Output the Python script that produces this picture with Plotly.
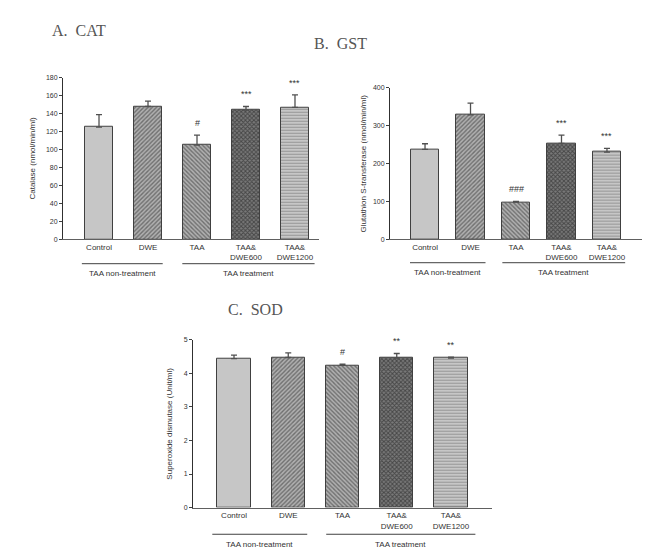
import plotly.graph_objects as go

categories = ["Control", "DWE", "TAA", "TAA&<br>DWE600", "TAA&<br>DWE1200"]

cat_means = [125, 148, 105, 144, 147]
cat_errs = [14, 6, 11, 4, 14]
cat_marks = ["", "", "#", "***", "***"]

gst_means = [237, 328, 98, 253, 230]
gst_errs = [15, 31, 2, 22, 10]
gst_marks = ["", "", "###", "***", "***"]

sod_means = [4.44, 4.47, 4.24, 4.45, 4.45]
sod_errs = [0.1, 0.14, 0.03, 0.14, 0.03]
sod_marks = ["", "", "#", "**", "**"]

group_labels = ["TAA non-treatment", "TAA treatment"]

fills = ["#c6c6c6", "#b0b0b0", "#b0b0b0", "#7a7a7a", "#d6d6d6"]
shapes_p = ["", "/", "\\", "x", "-"]
fgs = ["#c6c6c6", "#2e2e2e", "#2e2e2e", "#141414", "#555555"]
sizes = [4, 3, 3, 3, 3]
sol = [0.3, 0.45, 0.45, 0.55, 0.5]

FONT = "Liberation Sans, Arial, sans-serif"
SERIF = "Liberation Serif, Times New Roman, serif"

fig = go.Figure()

panels = [
    dict(means=cat_means, errs=cat_errs, marks=cat_marks, xs="x", ys="y",
         xdom=[63/660, 319/660], ydom=[1-238.3/557, 1-74.7/557],
         xr=[-0.735, 4.49], yr=[0, 180], dt=20, bw=0.59,
         ytitle="Catalase (nmol/min/ml)", ytx=33, title="A.  CAT", tx=50, ty=27,
         gl=[(-0.35, 1.3), (1.7, 4.4)], gly=263, gty=273),
    dict(means=gst_means, errs=gst_errs, marks=gst_marks, xs="x2", ys="y2",
         xdom=[390/660, 642/660], ydom=[1-238.3/557, 1-84.7/557],
         xr=[-0.77, 4.77], yr=[0, 400], dt=100, bw=0.62,
         ytitle="Glutathion S-transferase (nmol/min/ml)", ytx=363, title="B.  GST", tx=312, ty=40,
         gl=[(-0.33, 1.33), (1.7, 4.4)], gly=262, gty=272),
    dict(means=sod_means, errs=sod_errs, marks=sod_marks, xs="x3", ys="y3",
         xdom=[193/660, 492/660], ydom=[1-510/557, 1-340/557],
         xr=[-0.756, 4.756], yr=[0, 5], dt=1, bw=0.61,
         ytitle="Superoxide dismutase (Unit/ml)", ytx=170, title="C.  SOD", tx=226, ty=309,
         gl=[(-0.4, 1.35), (1.7, 4.45)], gly=537, gty=547),
]

annotations = []
shapes = []
for i, p in enumerate(panels):
    sfx = "" if i == 0 else str(i + 1)
    for k in range(5):
        fig.add_trace(go.Bar(
            x=[k], y=[p["means"][k]], width=p["bw"], xaxis=p["xs"], yaxis=p["ys"],
            marker=dict(color=fills[k],
                        line=dict(color="#404040", width=1),
                        pattern=dict(shape=shapes_p[k], fgcolor=fgs[k], bgcolor=fills[k],
                                     size=sizes[k], solidity=sol[k]) if shapes_p[k] else None),
            error_y=dict(type="data", symmetric=False, array=[p["errs"][k]], arrayminus=[0],
                         color="#505050", thickness=1.3, width=3),
            showlegend=False, hoverinfo="skip"))
        if p["marks"][k]:
            annotations.append(dict(x=k, y=p["means"][k] + p["errs"][k], xref=p["xs"], yref=p["ys"],
                                    text=p["marks"][k], showarrow=False, yanchor="bottom", yshift=5,
                                    font=dict(family=FONT, size=9, color="#333333")))
    fig.layout["xaxis" + sfx] = dict(domain=p["xdom"], range=p["xr"], anchor="y" + sfx,
                                     tickmode="array", tickvals=list(range(5)), ticktext=categories,
                                     showline=True, linecolor="#606060", linewidth=1, ticks="",
                                     showgrid=False, zeroline=False, fixedrange=True,
                                     tickfont=dict(family=FONT, size=8, color="#333333"))
    fig.layout["yaxis" + sfx] = dict(domain=p["ydom"], range=p["yr"], anchor="x" + sfx,
                                     dtick=p["dt"], showline=True, linecolor="#303030", linewidth=1,
                                     ticks="outside", ticklen=3, tickcolor="#404040",
                                     showgrid=False, zeroline=False,
                                     tickfont=dict(family=FONT, size=7, color="#333333"))
    annotations.append(dict(x=p["ytx"] / 660, y=sum(p["ydom"]) / 2, xref="paper", yref="paper",
                            text=p["ytitle"], textangle=-90, showarrow=False,
                            xanchor="center", yanchor="middle",
                            font=dict(family=FONT, size=8, color="#333333")))
    annotations.append(dict(x=p["tx"] / 660, y=1 - p["ty"] / 557, xref="paper", yref="paper",
                            text=p["title"], showarrow=False, xanchor="left", yanchor="middle",
                            font=dict(family=SERIF, size=16, color="#555555")))
    for g, (a, b) in enumerate(p["gl"]):
        shapes.append(dict(type="line", xref=p["xs"], yref="paper", x0=a, x1=b,
                           y0=1 - p["gly"] / 557, y1=1 - p["gly"] / 557,
                           line=dict(color="#404040", width=1)))
        annotations.append(dict(x=(a + b) / 2, y=1 - p["gty"] / 557, xref=p["xs"], yref="paper",
                                text=group_labels[g], showarrow=False, yanchor="middle",
                                font=dict(family=FONT, size=8, color="#333333")))

fig.update_layout(width=660, height=557, margin=dict(l=0, r=0, t=0, b=0),
                  paper_bgcolor="white", plot_bgcolor="white", bargap=0,
                  annotations=annotations, shapes=shapes)

fig.write_html("out.html", config={"displayModeBar": False},
               post_script="document.body.style.margin='0';document.body.style.overflow='hidden';")
